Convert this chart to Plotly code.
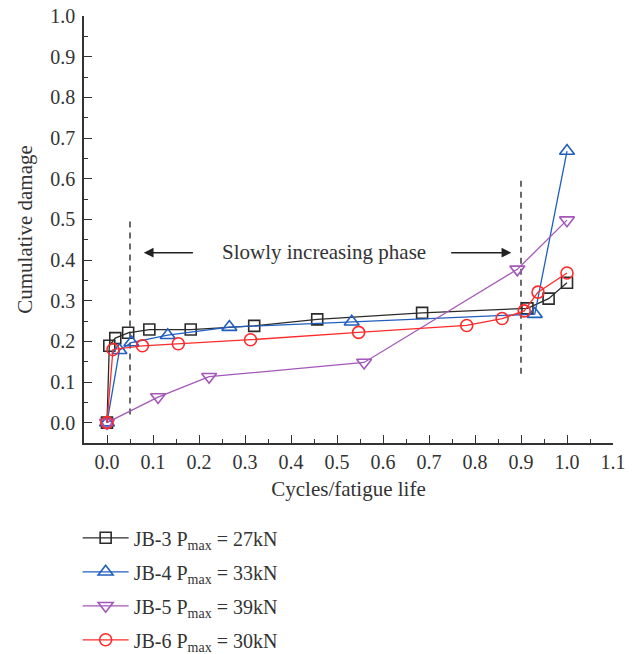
import plotly.graph_objects as go

# ---- data ----
jb3_x = [0.0, 0.005, 0.018, 0.046, 0.092, 0.182, 0.320, 0.457, 0.685, 0.914, 0.960, 1.0]
jb3_y = [0.0, 0.189, 0.208, 0.221, 0.229, 0.229, 0.238, 0.254, 0.270, 0.281, 0.305, 0.344]

jb4_x = [0.0, 0.027, 0.053, 0.132, 0.266, 0.532, 0.930, 1.0]
jb4_y = [0.0, 0.178, 0.197, 0.215, 0.235, 0.248, 0.267, 0.668]

jb5_x = [0.0, 0.111, 0.222, 0.559, 0.892, 1.0]
jb5_y = [0.0, 0.063, 0.113, 0.148, 0.377, 0.498]

jb6_x = [0.0, 0.013, 0.077, 0.155, 0.312, 0.547, 0.782, 0.859, 0.907, 0.937, 1.0]
jb6_y = [0.0, 0.180, 0.189, 0.194, 0.204, 0.222, 0.239, 0.256, 0.275, 0.321, 0.368]

series_names = [
    "JB-3 P<sub>max</sub> = 27kN",
    "JB-4 P<sub>max</sub> = 33kN",
    "JB-5 P<sub>max</sub> = 39kN",
    "JB-6 P<sub>max</sub> = 30kN",
]

# phase boundaries (dashed lines) and their vertical extents
phase_x = [0.05, 0.9]
phase_y_ranges = [[0.02, 0.50], [0.12, 0.60]]
phase_label = "Slowly increasing phase"
label_pos = [0.472, 0.42]
left_arrow = [0.19, 0.08]    # tail, head
right_arrow = [0.745, 0.879]  # tail, head
arrow_y = 0.418

x_ticks = [round(i * 0.1, 1) for i in range(12)]
y_ticks = [round(i * 0.1, 1) for i in range(11)]

FONT = "Liberation Serif"
TXT = "#333333"

colors = ["#2b2b2b", "#1f5fbf", "#a457b8", "#ff2a2a"]
symbols = ["square-open", "triangle-up-open", "triangle-down-open", "circle-open"]
xs = [jb3_x, jb4_x, jb5_x, jb6_x]
ys = [jb3_y, jb4_y, jb5_y, jb6_y]
sizes = [11, 13, 13, 12]

fig = go.Figure()

for px, (yr0, yr1) in zip(phase_x, phase_y_ranges):
    fig.add_trace(go.Scatter(
        x=[px, px], y=[yr0, yr1], mode="lines",
        line=dict(color="#3a3a3a", width=1.5, dash="6px,5px"),
        showlegend=False, hoverinfo="skip",
    ))

for i in range(4):
    fig.add_trace(go.Scatter(
        x=xs[i], y=ys[i], mode="lines+markers", name=series_names[i],
        legendgroup=f"g{i}",
        line=dict(color=colors[i], width=1.3),
        marker=dict(symbol=symbols[i], size=sizes[i], color=colors[i],
                    line=dict(width=1.6, color=colors[i])),
    ))

fig.add_annotation(x=label_pos[0], y=label_pos[1], text=phase_label,
                   showarrow=False, font=dict(family=FONT, size=21, color=TXT))
fig.add_annotation(x=left_arrow[1], y=arrow_y, ax=left_arrow[0], ay=arrow_y,
                   xref="x", yref="y", axref="x", ayref="y", text="",
                   showarrow=True, arrowhead=2, arrowsize=1.3, arrowwidth=1.5,
                   arrowcolor="#222222")
fig.add_annotation(x=right_arrow[1], y=arrow_y, ax=right_arrow[0], ay=arrow_y,
                   xref="x", yref="y", axref="x", ayref="y", text="",
                   showarrow=True, arrowhead=2, arrowsize=1.3, arrowwidth=1.5,
                   arrowcolor="#222222")

axis_common = dict(
    showline=True, linecolor="#333333", linewidth=1.5, mirror=False,
    ticks="inside", ticklen=8, tickwidth=1.3, tickcolor="#333333",
    showgrid=False, zeroline=False,
    tickfont=dict(family=FONT, size=20, color=TXT),
    title_font=dict(family=FONT, size=21, color=TXT),
    automargin=False,
)

fig.update_xaxes(
    range=[-0.05, 1.1], tickvals=x_ticks, ticktext=[f"{v:.1f}" for v in x_ticks],
    title_text="Cycles/fatigue life", title_standoff=10,
    minor=dict(ticks="inside", ticklen=4, tickwidth=1.2, tickcolor="#333333", dtick=0.05, tick0=0),
    **axis_common,
)
fig.update_yaxes(
    range=[-0.05, 1.0], tickvals=y_ticks, ticktext=[f"{v:.1f}" for v in y_ticks],
    title_text="Cumulative damage", title_standoff=12,
    minor=dict(ticks="inside", ticklen=4, tickwidth=1.2, tickcolor="#333333", dtick=0.05, tick0=0),
    ticklabelstandoff=3,
    **axis_common,
)

fig.update_layout(
    width=637, height=654,
    margin=dict(l=84, r=24, t=16, b=211, autoexpand=False),
    paper_bgcolor="white", plot_bgcolor="white",
    showlegend=True,
    legend=dict(
        x=-0.012, xanchor="left",
        yref="container", y=0.2075, yanchor="top",
        font=dict(family=FONT, size=20, color=TXT),
        traceorder="grouped", tracegroupgap=5, itemwidth=46,
        bgcolor="rgba(0,0,0,0)",
    ),
)

fig.write_html("out.html")
